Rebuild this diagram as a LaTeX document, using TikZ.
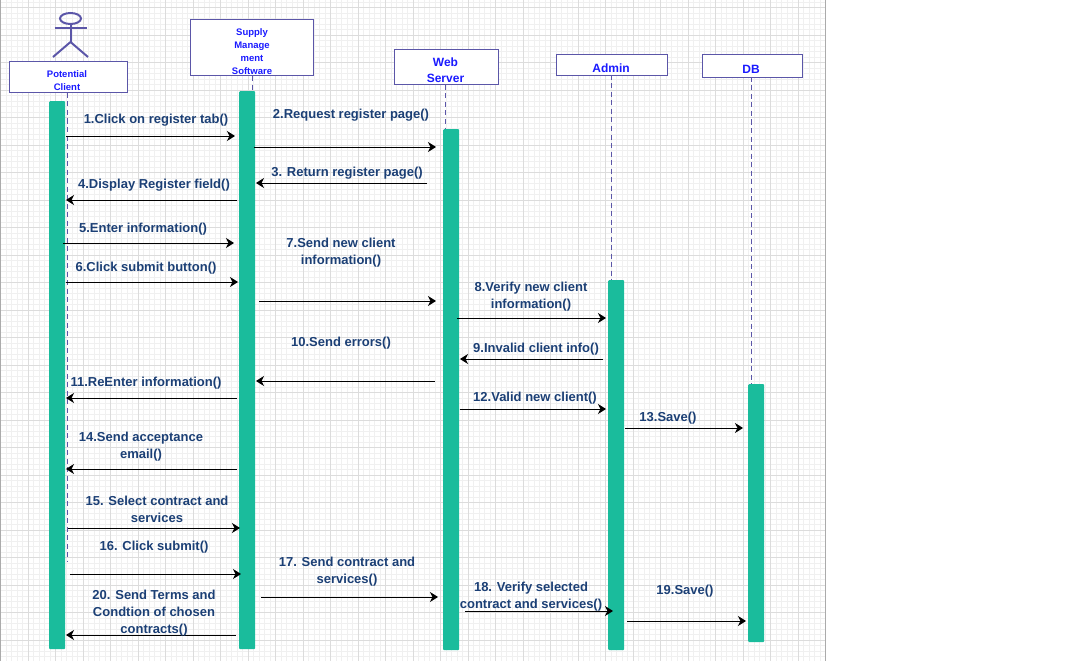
\documentclass[tikz,border=0pt]{standalone}
\usepackage{fontspec}
\setmainfont{Liberation Sans}
\usetikzlibrary{arrows.meta}

\definecolor{gridminor}{HTML}{F0F0F0}
\definecolor{gridmajor}{HTML}{DCDCDC}
\definecolor{pageedge}{HTML}{ABABAB}
\definecolor{headline}{HTML}{5B56A8}
\definecolor{headblue}{HTML}{1A1AFF}
\definecolor{bargreen}{HTML}{1ABC9C}
\definecolor{msgblue}{HTML}{1B3F75}

\tikzset{
    headbox/.style={draw=headline, fill=white, line width=1.1pt, inner sep=0pt},
    headtext/.style={text=headblue, font=\bfseries\fontsize{9.5}{13}\selectfont, align=center, inner sep=0pt},
    headbig/.style={text=headblue, font=\bfseries\fontsize{12}{16}\selectfont, align=center, inner sep=0pt},
    lifeline/.style={draw=headline, line width=0.9pt, dash pattern=on 5pt off 3.5pt},
    actbar/.style={fill=bargreen, minimum width=16pt, inner sep=0pt, anchor=north west, rounded corners=1pt},
    msg/.style={draw=black, line width=1pt, shift={(0,0.5)}, -{Stealth[inset=2.5pt,length=8pt,width=10pt]}},
    msgtext/.style={text=msgblue, font=\bfseries\fontsize{13}{17}\selectfont, align=center, inner sep=0pt, yshift=-0.5pt},
    stick/.style={draw=headline, line width=2pt}
}

\begin{document}
\begin{tikzpicture}[x=1pt, y=-1pt]
    \useasboundingbox (0,0) rectangle (1080,661);

    % background grid
    \foreach \i in {0,...,149} {
        \draw[gridminor, line width=0.6pt] (\i*5.5+0.5,0) -- (\i*5.5+0.5,661);
    }
    \foreach \i in {0,...,120} {
        \draw[gridminor, line width=0.6pt] (0,\i*5.5+2) -- (825,\i*5.5+2);
    }
    \foreach \i in {0,...,29} {
        \draw[gridmajor, line width=0.8pt] (\i*27.5+0.5,0) -- (\i*27.5+0.5,661);
    }
    \foreach \i in {0,...,23} {
        \draw[gridmajor, line width=0.8pt] (0,\i*27.5+7.5) -- (825,\i*27.5+7.5);
    }
    \draw[pageedge, line width=1.5pt] (0.5,0) -- (0.5,661);
    \draw[pageedge, line width=1.5pt] (825.5,0) -- (825.5,661);

    % stick figure
    \coordinate (neck) at (70.5,24);
    \coordinate (hip) at (70.5,42);
    \coordinate (handl) at (54.5,28.5);
    \coordinate (handr) at (86.5,28.5);
    \coordinate (footl) at (53,57);
    \coordinate (footr) at (88,57);
    \draw[stick] (70.5,18.5) ellipse (10.5 and 5.5);
    \draw[stick] (neck) -- (hip);
    \draw[stick] (handl) -- (handr);
    \draw[stick] (footl) -- (hip) -- (footr);

    % header boxes
    \node[headbox, minimum width=118pt, minimum height=31pt] (clientbox) at (68.5,77) {};
    \node[headbox, minimum width=123pt, minimum height=56pt] (supplybox) at (252,47.5) {};
    \node[headbox, minimum width=104pt, minimum height=35pt] (webbox) at (446.5,67) {};
    \node[headbox, minimum width=111pt, minimum height=21pt] (adminbox) at (612,65) {};
    \node[headbox, minimum width=100pt, minimum height=23pt] (dbbox) at (752.5,66) {};

    % activation bars
    \node[actbar, minimum height=548pt] (clientbar) at (49,101) {};
    \node[actbar, minimum height=558pt] (supplybar) at (239,91) {};
    \node[actbar, minimum height=521pt] (webbar) at (443,129) {};
    \node[actbar, minimum height=370pt] (adminbar) at (608,280) {};
    \node[actbar, minimum height=258pt] (dbbar) at (748,384) {};

    % lifelines
    \coordinate (clienttop) at (67,93);
    \coordinate (clientend) at (67,562);
    \coordinate (webtop) at (445.5,85);
    \coordinate (admintop) at (611,75);
    \coordinate (dbtop) at (751,77);
    \draw[lifeline] (clienttop) -- (clientend);
    \draw[lifeline] (supplybox.south) -- (supplybox.south |- supplybar.north);
    \draw[lifeline] (webtop) -- (webtop |- webbar.north);
    \draw[lifeline] (admintop) -- (admintop |- adminbar.north);
    \draw[lifeline] (dbtop) -- (dbtop |- dbbar.north);

    % header texts
    \node[headtext] (clientname) at (67,81) {Potential\\Client};
    \node[headtext] (supplyname) at (252,51.5) {Supply\\Manage\\ment\\Software};
    \node[headbig] (webname) at (445.5,70) {Web\\Server};
    \node[headbig] (adminname) at (611,68.5) {Admin};
    \node[headbig] (dbname) at (751,69) {DB};

    % message ends
    \coordinate (m1a) at (66,136);    \coordinate (m1b) at (235,136);
    \coordinate (m2a) at (254,147);   \coordinate (m2b) at (436,147);
    \coordinate (m3a) at (427,183);   \coordinate (m3b) at (256,183);
    \coordinate (m4a) at (237,200);   \coordinate (m4b) at (66,200);
    \coordinate (m5a) at (63,243);    \coordinate (m5b) at (234,243);
    \coordinate (m6a) at (66,282);    \coordinate (m6b) at (238,282);
    \coordinate (m7a) at (259,301);   \coordinate (m7b) at (436,301);
    \coordinate (m8a) at (457,318);   \coordinate (m8b) at (606,318);
    \coordinate (m9a) at (603,359);   \coordinate (m9b) at (460,359);
    \coordinate (m10a) at (435,381);  \coordinate (m10b) at (256,381);
    \coordinate (m11a) at (237,398);  \coordinate (m11b) at (66,398);
    \coordinate (m12a) at (460,409);  \coordinate (m12b) at (606,409);
    \coordinate (m13a) at (625,428);  \coordinate (m13b) at (743,428);
    \coordinate (m14a) at (237,469);  \coordinate (m14b) at (66,469);
    \coordinate (m15a) at (68,528);   \coordinate (m15b) at (240,528);
    \coordinate (m16a) at (70,574);   \coordinate (m16b) at (241,574);
    \coordinate (m17a) at (261,597);  \coordinate (m17b) at (438,597);
    \coordinate (m18a) at (465,611);  \coordinate (m18b) at (613,611);
    \coordinate (m19a) at (627,621);  \coordinate (m19b) at (746,621);
    \coordinate (m20a) at (236,635);  \coordinate (m20b) at (66,635);

    % messages
    \draw[msg] (m1a) -- (m1b);
    \draw[msg] (m2a) -- (m2b);
    \draw[msg] (m3a) -- (m3b);
    \draw[msg] (m4a) -- (m4b);
    \draw[msg] (m5a) -- (m5b);
    \draw[msg] (m6a) -- (m6b);
    \draw[msg] (m7a) -- (m7b);
    \draw[msg] (m8a) -- (m8b);
    \draw[msg] (m9a) -- (m9b);
    \draw[msg] (m10a) -- (m10b);
    \draw[msg] (m11a) -- (m11b);
    \draw[msg] (m12a) -- (m12b);
    \draw[msg] (m13a) -- (m13b);
    \draw[msg] (m14a) -- (m14b);
    \draw[msg] (m15a) -- (m15b);
    \draw[msg] (m16a) -- (m16b);
    \draw[msg] (m17a) -- (m17b);
    \draw[msg] (m18a) -- (m18b);
    \draw[msg] (m19a) -- (m19b);
    \draw[msg] (m20a) -- (m20b);

    % message labels
    \node[msgtext] (t1) at (156,120) {1.Click on register tab()};
    \node[msgtext] (t2) at (351,115) {2.Request register page()};
    \node[msgtext] (t3) at (347,173) {3. Return register page()};
    \node[msgtext] (t4) at (154,185) {4.Display Register field()};
    \node[msgtext] (t5) at (143,229) {5.Enter information()};
    \node[msgtext] (t6) at (146,268) {6.Click submit button()};
    \node[msgtext] (t7) at (341,252.5) {7.Send new client\\information()};
    \node[msgtext] (t8) at (531,296.5) {8.Verify new client\\information()};
    \node[msgtext] (t9) at (536,349) {9.Invalid client info()};
    \node[msgtext] (t10) at (341,343) {10.Send errors()};
    \node[msgtext] (t11) at (146,383) {11.ReEnter information()};
    \node[msgtext] (t12) at (535,398) {12.Valid new client()};
    \node[msgtext] (t13) at (668,418) {13.Save()};
    \node[msgtext] (t14) at (141,446.5) {14.Send acceptance\\email()};
    \node[msgtext] (t15) at (157,508.5) {15. Select contract and\\services};
    \node[msgtext] (t16) at (154,547) {16. Click submit()};
    \node[msgtext] (t17) at (347,571.5) {17. Send contract and\\services()};
    \node[msgtext] (t18) at (531,596.5) {18. Verify selected\\contract and services()};
    \node[msgtext] (t19) at (685,591) {19.Save()};
    \node[msgtext] (t20) at (154,613) {20. Send Terms and\\Condtion of chosen\\contracts()};
\end{tikzpicture}
\end{document}
